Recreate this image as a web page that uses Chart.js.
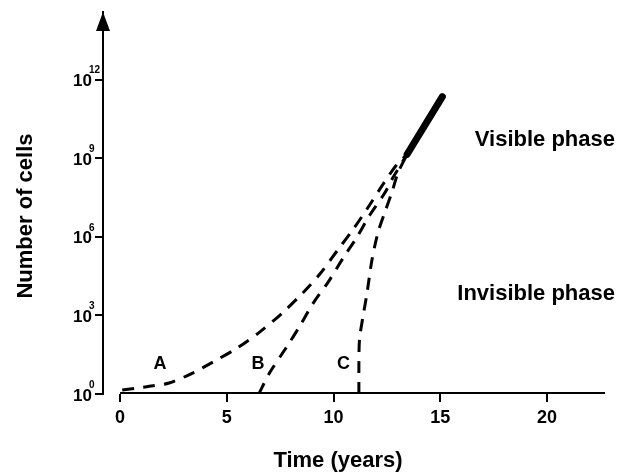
<!DOCTYPE html>
<html>
<head>
<meta charset="utf-8">
<script src="https://cdn.jsdelivr.net/npm/chart.js@4.4.1/dist/chart.umd.min.js"></script>
<style>
  body { margin: 0; background: #fff; }
  #wrap { width: 627px; height: 474px; }
</style>
</head>
<body>
<div id="wrap"><canvas id="myChart" width="627" height="474"></canvas></div>
<script>
// values; cells are stored as log10(number of cells)
var aYears = [0.1, 1.25, 2.3, 3.4, 4.35, 5.5, 6.55, 7.6, 8.55, 9.4, 10.2, 10.9, 11.6, 12.3, 12.95, 13.45];
var aLogCells = [0.15, 0.28, 0.42, 0.8, 1.22, 1.76, 2.37, 3.09, 3.85, 4.62, 5.5, 6.26, 7.1, 7.98, 8.74, 9.15];

var bYears = [6.5, 7.0, 7.8, 8.45, 9.05, 9.75, 10.45, 11.1, 11.7, 12.4, 12.8, 13.45];
var bLogCells = [0, 0.8, 1.79, 2.63, 3.47, 4.27, 5.19, 5.99, 6.83, 7.67, 8.28, 9.15];

var cYears = [11.19, 11.19, 11.22, 11.38, 11.57, 11.8, 12.08, 12.41, 12.74, 13.02, 13.45];
var cLogCells = [0, 1.2, 2.1, 2.95, 3.85, 5.11, 6.15, 6.95, 7.71, 8.44, 9.15];

var visibleYears = [13.45, 15.1];
var visibleLogCells = [9.15, 11.35];

var xTicks = [0, 5, 10, 15, 20];
var yTickExponents = [0, 3, 6, 9, 12];

var FONT = '"Liberation Sans", Arial, Helvetica, sans-serif';

function pts(xs, ys) {
  return xs.map(function (x, i) { return { x: x, y: Math.pow(10, ys[i]) }; });
}

function dashed(label, xs, ys) {
  return {
    label: label,
    data: pts(xs, ys),
    borderColor: '#000',
    borderWidth: 3,
    borderDash: [12, 9],
    pointRadius: 0,
    tension: 0.3,
    fill: false
  };
}

// extra drawing: arrow, x axis line, tick labels with superscripts, titles, notes
var decor = {
  id: 'decor',
  afterDraw: function (chart) {
    var ctx = chart.ctx;
    var xs = chart.scales.x, ys = chart.scales.y;
    var area = chart.chartArea;
    ctx.save();
    ctx.fillStyle = '#000';
    ctx.strokeStyle = '#000';

    // arrow head on the y axis
    ctx.beginPath();
    ctx.moveTo(area.left, area.top);
    ctx.lineTo(area.left - 7, area.top + 19);
    ctx.lineTo(area.left + 7, area.top + 19);
    ctx.closePath();
    ctx.fill();

    // x axis line, starting at year 0
    ctx.lineWidth = 2;
    ctx.beginPath();
    ctx.moveTo(xs.getPixelForValue(0), area.bottom - 1);
    ctx.lineTo(area.right, area.bottom - 1);
    ctx.stroke();

    // y tick labels 10^n
    yTickExponents.forEach(function (e) {
      var py = ys.getPixelForValue(Math.pow(10, e));
      ctx.font = 'bold 17px ' + FONT;
      ctx.textAlign = 'right';
      ctx.textBaseline = 'middle';
      ctx.fillText('10', 92, py + 2);
      ctx.font = 'bold 10px ' + FONT;
      ctx.textAlign = 'left';
      ctx.fillText(String(e), 89, py - 9);
    });

    // x tick labels
    ctx.font = 'bold 18px ' + FONT;
    ctx.textAlign = 'center';
    ctx.textBaseline = 'middle';
    xTicks.forEach(function (t) {
      ctx.fillText(String(t), xs.getPixelForValue(t), 418);
    });

    // axis titles
    ctx.font = 'bold 22px ' + FONT;
    ctx.textAlign = 'center';
    ctx.textBaseline = 'alphabetic';
    ctx.fillText('Time (years)', 338, 467);

    ctx.save();
    ctx.translate(32, 216);
    ctx.rotate(-Math.PI / 2);
    ctx.fillText('Number of cells', 0, 0);
    ctx.restore();

    // phase notes
    ctx.textAlign = 'right';
    ctx.fillText('Visible phase', 615, 146);
    ctx.fillText('Invisible phase', 615, 300);

    // curve names
    ctx.font = 'bold 18px ' + FONT;
    ctx.textAlign = 'center';
    ctx.textBaseline = 'middle';
    ctx.fillText('A', 160, 364);
    ctx.fillText('B', 258, 364);
    ctx.fillText('C', 343.5, 364);

    ctx.restore();
  }
};

var grafica = new Chart(document.getElementById('myChart'), {
  type: 'line',
  data: {
    datasets: [
      dashed('A', aYears, aLogCells),
      dashed('B', bYears, bLogCells),
      dashed('C', cYears, cLogCells),
      {
        label: 'visible',
        data: pts(visibleYears, visibleLogCells),
        borderColor: '#000',
        borderWidth: 7,
        borderCapStyle: 'round',
        pointRadius: 0,
        fill: false
      }
    ]
  },
  options: {
    responsive: false,
    animation: false,
    events: [],
    layout: { padding: { top: 12, right: 22, left: 0, bottom: 0 } },
    plugins: { legend: { display: false }, tooltip: { enabled: false } },
    scales: {
      x: {
        type: 'linear',
        min: -0.8,
        max: 22.72,
        afterBuildTicks: function (scale) {
          scale.ticks = xTicks.map(function (v) { return { value: v }; });
        },
        afterFit: function (scale) { scale.height = 80; },
        ticks: { display: false },
        border: { display: false },
        grid: { drawOnChartArea: false, drawTicks: true, tickLength: 8, color: '#000', lineWidth: 2 }
      },
      y: {
        type: 'logarithmic',
        min: 1,
        max: Math.pow(10, 14.58),
        afterBuildTicks: function (scale) {
          scale.ticks = yTickExponents.map(function (e) { return { value: Math.pow(10, e) }; });
        },
        afterFit: function (scale) { scale.width = 103; },
        ticks: { display: false },
        border: { display: true, color: '#000', width: 2 },
        grid: { drawOnChartArea: false, drawTicks: true, tickLength: 8, color: '#000', lineWidth: 2 }
      }
    }
  },
  plugins: [decor]
});
</script>
</body>
</html>
